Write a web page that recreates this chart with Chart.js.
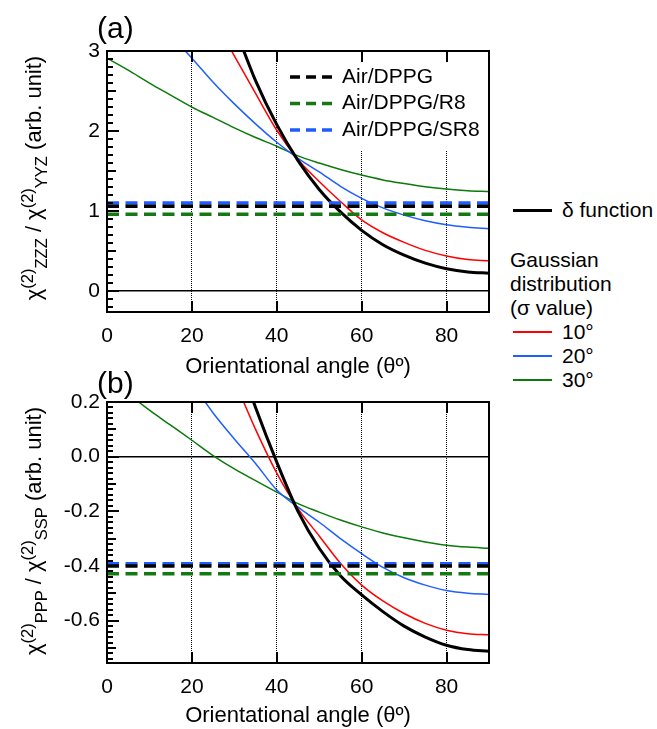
<!DOCTYPE html>
<html>
<head>
<meta charset="utf-8">
<script src="https://cdn.jsdelivr.net/npm/chart.js@4.4.1/dist/chart.umd.min.js"></script>
<style>
body { margin: 0; background: #fff; }
#page { position: relative; width: 657px; height: 729px; overflow: hidden; font-family: "Liberation Sans", Arial, sans-serif; color: #000; }
canvas { position: absolute; left: 0; }
#chartA { top: 0; }
#chartB { top: 351px; }
.panel { position: absolute; font-size: 30px; line-height: 30px; white-space: nowrap; }
.ytitle { position: absolute; font-size: 22px; line-height: 1; white-space: nowrap; transform: translate(-50%, -50%) rotate(-90deg); }
.ytitle sup, .ytitle sub { font-size: 75%; }
.key { position: absolute; font-size: 21px; line-height: 24px; white-space: nowrap; }
.swatch { position: absolute; width: 39px; }
.box { position: absolute; left: 106px; width: 384px; height: 263px; border: 2px solid #000; box-sizing: border-box; }
.xt { position: absolute; left: 190.75px; width: 258px; height: 11px; background: repeating-linear-gradient(to right, #000 0 2.5px, transparent 2.5px 84.89px); }
.yt { position: absolute; left: 107px; }
</style>
</head>
<body>
<div id="page">
  <canvas id="chartA" width="500" height="380"></canvas>
  <canvas id="chartB" width="500" height="378"></canvas>

  <!-- frame and inward ticks, panel (a) -->
  <div class="box" style="top:50px;"></div>
  <div class="xt" style="top:51px;"></div>
  <div class="xt" style="top:301px;"></div>
  <div class="yt" style="top:50px; width:6px; height:259px; background:repeating-linear-gradient(to bottom, #000 0 2px, transparent 2px 8.006px);"></div>
  <div class="yt" style="top:50px; width:9px; height:243px; background:repeating-linear-gradient(to bottom, #000 0 2px, transparent 2px 40.03px);"></div>
  <div class="yt" style="top:50px; width:12px; height:243px; background:repeating-linear-gradient(to bottom, #000 0 2px, transparent 2px 80.06px);"></div>

  <!-- frame and inward ticks, panel (b) -->
  <div class="box" style="top:401px;"></div>
  <div class="xt" style="top:402px;"></div>
  <div class="xt" style="top:652px;"></div>
  <div class="yt" style="top:401px; width:6px; height:260px; background:repeating-linear-gradient(to bottom, #000 0 2px, transparent 2px 5.466px);"></div>
  <div class="yt" style="top:401px; width:9px; height:249px; background:repeating-linear-gradient(to bottom, #000 0 2px, transparent 2px 27.33px);"></div>
  <div class="yt" style="top:401px; width:12px; height:222px; background:repeating-linear-gradient(to bottom, #000 0 2px, transparent 2px 54.66px);"></div>

  <div class="panel" style="left:97px; top:13px;">(a)</div>
  <div class="panel" style="left:97px; top:368px;">(b)</div>

  <div class="ytitle" style="left:34px; top:178px;">χ<sup>(2)</sup><sub>ZZZ</sub> / χ<sup>(2)</sup><sub>YYZ</sub> (arb. unit)</div>
  <div class="ytitle" style="left:34px; top:531px;">χ<sup>(2)</sup><sub>PPP</sub> / χ<sup>(2)</sup><sub>SSP</sub> (arb. unit)</div>

  <div class="swatch" style="left:513px; top:209px; height:3px; background:#000;"></div>
  <div class="key" style="left:562px; top:198px;">δ function</div>
  <div class="key" style="left:510px; top:248px;">Gaussian</div>
  <div class="key" style="left:510px; top:272px;">distribution</div>
  <div class="key" style="left:510px; top:296px;">(σ value)</div>
  <div class="swatch" style="left:513px; top:331px; height:2px; background:#ff0000;"></div>
  <div class="key" style="left:562px; top:320px;">10°</div>
  <div class="swatch" style="left:513px; top:355px; height:2px; background:#1f5fff;"></div>
  <div class="key" style="left:562px; top:344px;">20°</div>
  <div class="swatch" style="left:513px; top:379px; height:2px; background:#0b7a0b;"></div>
  <div class="key" style="left:562px; top:368px;">30°</div>
</div>

<script>
const fontFamily = '"Liberation Sans", Arial, sans-serif'

const xTicks = [0, 20, 40, 60, 80]
const yTicksA = [0, 1, 2, 3]
const yTicksB = [-0.6, -0.4, -0.2, 0, 0.2]

// panel (a): chi_ZZZ / chi_YYZ
const angDeltaA = [30, 35, 40, 45, 50, 55, 60, 65, 70, 75, 80, 85, 90]
const deltaA = [3.31, 2.63, 2.08, 1.63, 1.27, 0.99, 0.76, 0.58, 0.45, 0.35, 0.28, 0.24, 0.225]
const ang10A = [25, 30, 35, 40, 45, 50, 55, 60, 65, 70, 75, 80, 85, 90]
const sig10A = [3.42, 2.94, 2.47, 2.01, 1.645, 1.37, 1.12, 0.89, 0.73, 0.61, 0.51, 0.44, 0.395, 0.38]
const ang20A = [15, 20, 25, 30, 35, 40, 45, 50, 55, 60, 65, 70, 75, 80, 85, 90]
const sig20A = [3.2, 2.91, 2.61, 2.34, 2.09, 1.86, 1.66, 1.49, 1.31, 1.16, 1.04, 0.95, 0.88, 0.83, 0.80, 0.78]
const ang30A = [0, 5, 10, 15, 20, 25, 30, 35, 40, 45, 50, 55, 60, 65, 70, 75, 80, 85, 90]
const sig30A = [2.91, 2.76, 2.60, 2.45, 2.30, 2.17, 2.04, 1.92, 1.81, 1.69, 1.60, 1.52, 1.45, 1.39, 1.345, 1.305, 1.275, 1.255, 1.245]

// panel (b): chi_PPP / chi_SSP
const angDeltaB = [30, 35, 40, 45, 50, 55, 60, 65, 70, 75, 80, 85, 90]
const deltaB = [0.40, 0.18, -0.02, -0.20, -0.335, -0.436, -0.506, -0.567, -0.62, -0.66, -0.69, -0.706, -0.712]
const ang10B = [30, 35, 40, 45, 50, 55, 60, 65, 70, 75, 80, 85, 90]
const sig10B = [0.28, 0.10, -0.06, -0.19, -0.29, -0.39, -0.47, -0.528, -0.574, -0.61, -0.635, -0.648, -0.652]
const ang20B = [20, 25, 30, 35, 40, 45, 50, 55, 60, 65, 70, 75, 80, 85, 90]
const sig20B = [0.27, 0.16, 0.065, -0.025, -0.122, -0.185, -0.24, -0.30, -0.355, -0.405, -0.443, -0.47, -0.49, -0.50, -0.504]
const ang30B = [0, 5, 10, 15, 20, 25, 30, 35, 40, 45, 50, 55, 60, 65, 70, 75, 80, 85, 90]
const sig30B = [0.29, 0.23, 0.17, 0.115, 0.06, 0.004, -0.045, -0.088, -0.13, -0.172, -0.203, -0.232, -0.257, -0.279, -0.297, -0.312, -0.324, -0.331, -0.335]

// measured samples (dashed)
const dashX = [0, 90]
const sampleNames = ["Air/DPPG", "Air/DPPG/R8", "Air/DPPG/SR8"]
const sampleA = [1.06, 0.96, 1.10]
const sampleB = [-0.40, -0.428, -0.392]
const sampleColors = ["#000000", "#137a13", "#1f5cff"]

function pts(xs, ys) {
    return xs.map((x, i) => ({ x: x, y: ys[i] }))
}

function curve(label, xs, ys, color, width) {
    return {
        label: label,
        data: pts(xs, ys),
        borderColor: color,
        backgroundColor: color,
        borderWidth: width,
        pointRadius: 0,
        cubicInterpolationMode: "monotone",
        fill: false
    }
}

function dashed(label, value, color) {
    return {
        label: label,
        data: pts(dashX, [value, value]),
        borderColor: color,
        backgroundColor: color,
        borderWidth: 3.5,
        borderDash: [12, 6.5],
        pointRadius: 0,
        fill: false
    }
}

// white legend box inside panel (a)
function keyPlugin(k) {
    return {
        id: "keys",
        beforeDatasetsDraw(chart) {
            const ctx = chart.ctx
            const area = chart.chartArea
            ctx.save()
            ctx.fillStyle = "#fff"
            ctx.fillRect(k.boxLeft, area.top + 12, area.right - 1 - k.boxLeft, k.boxHeight - 12)
            ctx.font = "21px " + fontFamily
            ctx.textBaseline = "middle"
            k.items.forEach((item, i) => {
                const y = area.top + k.firstY + i * k.stepY
                ctx.strokeStyle = item.color
                ctx.lineWidth = 3.5
                ctx.setLineDash([10, 6])
                ctx.beginPath()
                ctx.moveTo(k.boxLeft + 3, y)
                ctx.lineTo(k.boxLeft + 51, y)
                ctx.stroke()
                ctx.setLineDash([])
                ctx.fillStyle = "#000"
                ctx.fillText(item.label, k.boxLeft + 55, y)
            })
            ctx.restore()
        }
    }
}

function makeOptions(yMin, yMax, yTicks, fmt, canvasH) {
    return {
        responsive: false,
        animation: false,
        devicePixelRatio: 1,
        layout: { padding: { top: 51, right: 11, left: 0, bottom: 0 } },
        plugins: {
            legend: { display: false },
            tooltip: { enabled: false }
        },
        scales: {
            x: {
                type: "linear",
                min: 0,
                max: 90,
                afterBuildTicks: s => { s.ticks = xTicks.map(v => ({ value: v })) },
                afterFit: s => { s.height = canvasH - 312 },
                grid: {
                    color: c => (c.tick && c.tick.value === 0) ? "rgba(0,0,0,0)" : "#000",
                    lineWidth: 1,
                    drawTicks: false
                },
                border: { display: false, dash: [1, 1] },
                ticks: {
                    padding: 12,
                    color: "#000",
                    maxRotation: 0,
                    autoSkip: false,
                    font: { size: 21, family: fontFamily }
                },
                title: {
                    display: true,
                    text: "Orientational angle (θº)",
                    color: "#000",
                    padding: { top: 0, bottom: 0 },
                    font: { size: 22, family: fontFamily }
                }
            },
            y: {
                type: "linear",
                min: yMin,
                max: yMax,
                afterBuildTicks: s => { s.ticks = yTicks.map(v => ({ value: v })) },
                afterFit: s => { s.width = 107 },
                grid: {
                    color: c => (c.tick && Math.abs(c.tick.value) < 1e-9) ? "#000" : "rgba(0,0,0,0)",
                    lineWidth: 1.5,
                    drawTicks: false
                },
                border: { display: false },
                ticks: {
                    padding: 7,
                    color: "#000",
                    autoSkip: false,
                    font: { size: 21, family: fontFamily },
                    callback: v => fmt(v)
                }
            }
        }
    }
}

const keyItems = sampleNames.map((name, i) => ({ label: name, color: sampleColors[i] }))

new Chart(document.getElementById("chartA").getContext("2d"), {
    type: "line",
    data: {
        datasets: [
            dashed(sampleNames[0], sampleA[0], sampleColors[0]),
            dashed(sampleNames[2], sampleA[2], sampleColors[2]),
            dashed(sampleNames[1], sampleA[1], sampleColors[1]),
            curve("δ function", angDeltaA, deltaA, "#000", 3),
            curve("10°", ang10A, sig10A, "#ff0000", 1.5),
            curve("20°", ang20A, sig20A, "#1f5fff", 1.5),
            curve("30°", ang30A, sig30A, "#0b7a0b", 1.5)
        ]
    },
    options: makeOptions(-0.26, 3, yTicksA, v => String(Math.round(v)), 380),
    plugins: [keyPlugin({ items: keyItems, boxLeft: 287, boxHeight: 100, firstY: 26, stepY: 26.5 })]
})

new Chart(document.getElementById("chartB").getContext("2d"), {
    type: "line",
    data: {
        datasets: [
            dashed(sampleNames[0], sampleB[0], sampleColors[0]),
            dashed(sampleNames[2], sampleB[2], sampleColors[2]),
            dashed(sampleNames[1], sampleB[1], sampleColors[1]),
            curve("δ function", angDeltaB, deltaB, "#000", 3),
            curve("10°", ang10B, sig10B, "#ff0000", 1.5),
            curve("20°", ang20B, sig20B, "#1f5fff", 1.5),
            curve("30°", ang30B, sig30B, "#0b7a0b", 1.5)
        ]
    },
    options: makeOptions(-0.755, 0.2, yTicksB, v => v.toFixed(1), 378)
})
</script>
</body>
</html>
